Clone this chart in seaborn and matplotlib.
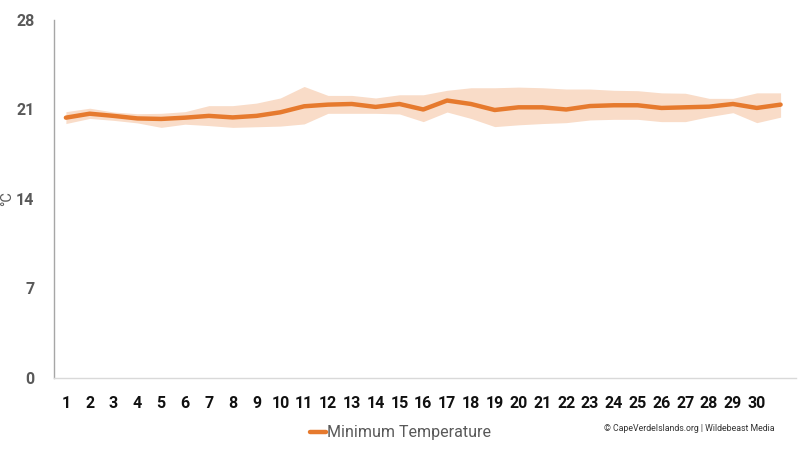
import numpy as np
import pandas as pd
import matplotlib
matplotlib.use('Agg')
import matplotlib.pyplot as plt
import seaborn as sns

days = list(range(1, 32))
min_temp = [20.36, 20.67, 20.5, 20.3, 20.26, 20.36, 20.5, 20.38, 20.5, 20.78,
            21.25, 21.38, 21.43, 21.2, 21.43, 21.0, 21.7, 21.43, 20.96, 21.17,
            21.17, 21.0, 21.27, 21.33, 21.33, 21.12, 21.17, 21.22, 21.43, 21.12,
            21.38]
band_high = [20.83, 21.1, 20.8, 20.67, 20.7, 20.83, 21.3, 21.3, 21.5, 21.9,
             22.8, 22.1, 22.1, 21.9, 22.15, 22.15, 22.5, 22.7, 22.7, 22.75,
             22.7, 22.6, 22.6, 22.5, 22.47, 22.3, 22.27, 21.87, 21.87, 22.3,
             22.3]
band_low = [19.9, 20.3, 20.15, 19.95, 19.6, 19.85, 19.74, 19.6, 19.65, 19.7,
            19.87, 20.7, 20.7, 20.7, 20.65, 20.05, 20.8, 20.3, 19.66, 19.8,
            19.9, 19.97, 20.18, 20.23, 20.23, 20.05, 20.05, 20.44, 20.75, 19.97,
            20.4]
xtick_labels = [str(d) for d in range(1, 31)]
ytick_vals = [0, 7, 14, 21, 28]

df = pd.DataFrame({'day': days, 'temp': min_temp, 'hi': band_high, 'lo': band_low})

sns.set_style('white')
plt.rcParams['font.family'] = ['Roboto', 'DejaVu Sans']

fig = plt.figure(figsize=(8, 4.5), dpi=100)
ax = fig.add_axes([0.0675, 0.16, 0.927, 0.7956])

orange = '#E67A2E'
ax.fill_between(df['day'], df['lo'], df['hi'], color='#F9DCC8', linewidth=0, zorder=1)
sns.lineplot(data=df, x='day', y='temp', color=orange, linewidth=3.2, ax=ax,
             label='Minimum Temperature', zorder=3)

ax.set_xlim(0.5, 31.63)
ax.set_ylim(0, 28)
ax.set_yticks(ytick_vals)
ax.set_yticklabels([str(v) for v in ytick_vals], fontsize=11.5, fontweight='bold', color='#595959')
ax.set_xticks(range(1, 31))
ax.set_xticklabels(xtick_labels, fontsize=11.5, fontweight='bold', color='#111111')
ax.tick_params(axis='x', length=0, pad=13)
ax.tick_params(axis='y', length=0, pad=14)
ax.set_xlabel('')
ax.set_ylabel('°C', fontsize=10.5, color='#595959')
ax.yaxis.set_label_coords(-0.054, 0.5)

for s in ['top', 'right']:
    ax.spines[s].set_visible(False)
ax.spines['left'].set_color('#A6A6A6')
ax.spines['bottom'].set_color('#D9D9D9')
ax.spines['left'].set_linewidth(1)
ax.spines['bottom'].set_linewidth(1)

leg = ax.legend(loc='center', bbox_to_anchor=(0.467, -0.153), frameon=False,
                fontsize=11.5, handlelength=1.0, handletextpad=0.1)
for t in leg.get_texts():
    t.set_color('#595959')

fig.text(0.968, 0.048, '© CapeVerdeIslands.org | Wildebeast Media', fontsize=6.3,
         color='#333333', ha='right', va='center')

fig.savefig('out.png', dpi=100)
